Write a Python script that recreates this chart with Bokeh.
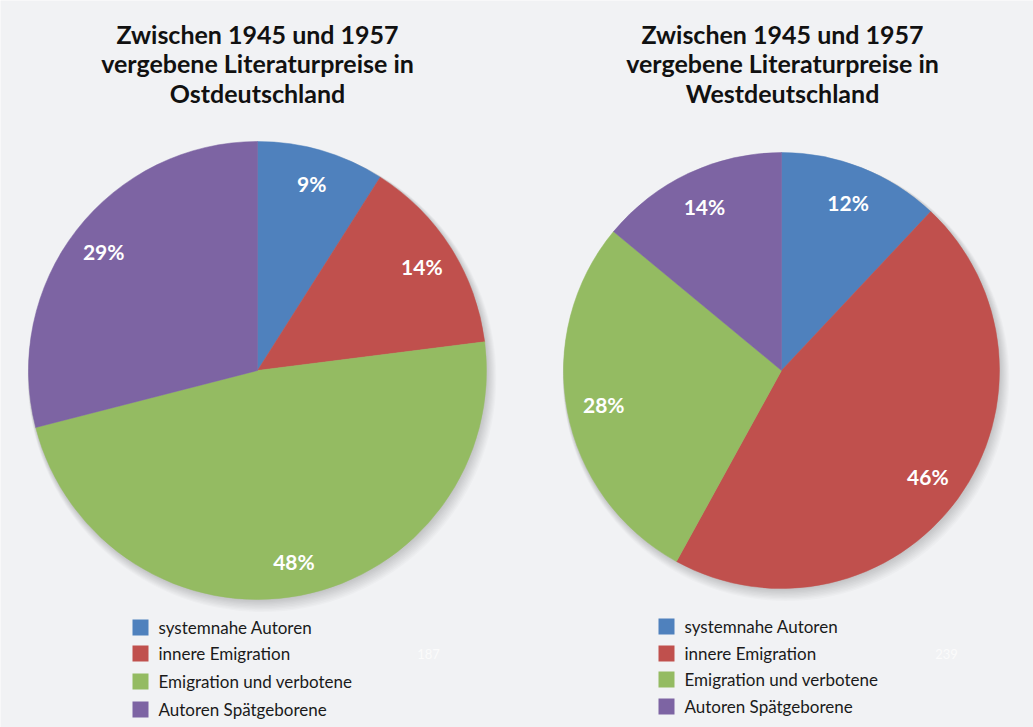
import numpy as np
from bokeh.plotting import figure
from bokeh.models import Range1d
from bokeh.embed import file_html
from bokeh.resources import INLINE
from bokeh.core.properties import value

categories = ["systemnahe Autoren", "innere Emigration", "Emigration und verbotene", "Autoren Spätgeborene"]
ost_values = [9, 14, 48, 29]
west_values = [12, 46, 28, 14]
colors = ["#4f81bd", "#c0504d", "#94bb62", "#7d64a3"]
titles = [["Zwischen 1945 und 1957", "vergebene Literaturpreise in", "Ostdeutschland"],
          ["Zwischen 1945 und 1957", "vergebene Literaturpreise in", "Westdeutschland"]]
page_numbers = ["187", "239"]

W, H = 1033, 727
BG = "#f1f2f4"
FONT = value("Lato")

p = figure(width=W, height=H, x_range=Range1d(0, W), y_range=Range1d(0, H),
           output_backend="svg", toolbar_location=None, min_border=0)
p.axis.visible = False
p.grid.visible = False
p.outline_line_color = None
p.background_fill_color = BG
p.border_fill_color = BG

panels = [
    dict(vals=ost_values, cx=257, cy=H - 370, r=229, title=titles[0], lx=132, ly=[627, 653, 681, 709], tx=428, pg=page_numbers[0], tcx=257, lrf=0.85),
    dict(vals=west_values, cx=781, cy=H - 370, r=218, title=titles[1], lx=658, ly=[626, 653, 679, 706], tx=946, pg=page_numbers[1], tcx=782, lrf=0.83),
]

for pn in panels:
    vals = np.array(pn["vals"], dtype=float)
    frac = vals / vals.sum()
    f1 = np.cumsum(frac)
    f0 = f1 - frac
    cx, cy, r = pn["cx"], pn["cy"], pn["r"]

    # soft shadow
    for k in range(1, 10):
        p.circle(x=[cx + 0.5 * k], y=[cy - 0.8 * k], radius=r + 0.6 * k,
                 fill_color="#000000", fill_alpha=0.02, line_color=None)

    start = np.pi / 2 - 2 * np.pi * f1
    end = np.pi / 2 - 2 * np.pi * f0
    p.wedge(x=[cx] * len(vals), y=[cy] * len(vals), radius=r,
            start_angle=list(start), end_angle=list(end), direction="anticlock",
            fill_color=colors, line_color=colors, line_width=0.5)

    mid = np.pi / 2 - 2 * np.pi * (f0 + f1) / 2
    lr = pn["lrf"] * r
    p.text(x=list(cx + lr * np.cos(mid)), y=list(cy + lr * np.sin(mid)),
           text=[f"{int(v)}%" for v in vals], text_align="center", text_baseline="middle",
           text_font=FONT, text_font_size="21px", text_font_style="bold", text_color="white")

    for i, line in enumerate(pn["title"]):
        p.text(x=[pn["tcx"]], y=[H - (33 + 29.5 * i)], text=[line], text_align="center",
               text_baseline="middle", text_font=FONT, text_font_size="25px",
               text_font_style="bold", text_color="#111111")

    lys = [H - y for y in pn["ly"]]
    p.rect(x=[pn["lx"] + 8] * 4, y=lys, width=16, height=16, fill_color=colors, line_color=None)
    p.text(x=[pn["lx"] + 26] * 4, y=lys, text=categories, text_align="left", text_baseline="middle",
           text_font=FONT, text_font_size="17px", text_color="#1a1a1a")

    p.text(x=[pn["tx"]], y=[H - 653], text=[pn["pg"]], text_align="center", text_baseline="middle",
           text_font=FONT, text_font_size="13px", text_color="#fbfbfb")

open("out.html", "w").write(file_html(p, INLINE))
